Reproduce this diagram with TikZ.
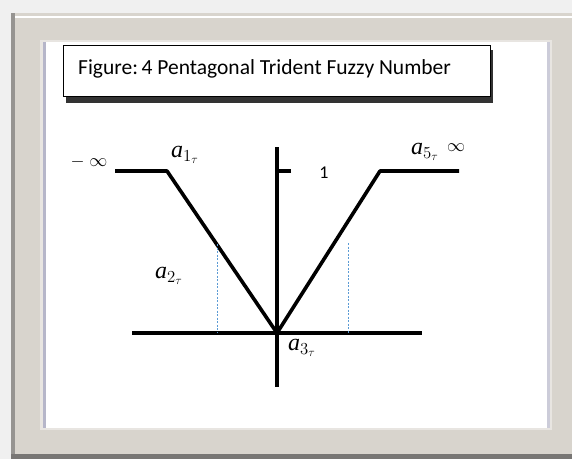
\RequirePackage{fix-cm}
\documentclass[tikz,border=0pt]{standalone}
\usepackage{fontspec}
\setmainfont{Liberation Serif}
\newfontfamily\titlefont{Carlito}
\definecolor{framegray}{RGB}{216,212,205}
\definecolor{edgegray}{RGB}{150,148,145}
\definecolor{guideblue}{RGB}{91,155,213}
\newcommand{\ala}[1]{\textit{a}$_{#1_\tau}$}
\begin{document}
\begin{tikzpicture}[x=1pt,y=-1pt,
	curve/.style={ line width=3.6pt, line join=round },
	axis/.style={ line width=3.6pt },
	guide/.style={ draw=guideblue, line width=0.8pt, dash pattern=on 2pt off 1.5pt },
	lbl/.style={ inner sep=0pt, font=\fontsize{24}{24}\selectfont },
	inf/.style={ inner sep=0pt, font=\fontsize{18}{18}\selectfont }
]
\useasboundingbox (0,0) rectangle (572,459);

% frame
\fill[black!6] (0,0) rectangle (572,459);
\fill[framegray] (11,13) rectangle (572,457);
\fill[edgegray] (11,13) rectangle (15,457);
\fill[edgegray!80!black] (11,454) rectangle (572,459);
\draw[white, line width=1.5pt] (15,17) -- (572,17);
\fill[framegray!60!white] (40,40) rectangle (552,430);
\fill[white] (43,42) rectangle (550,428);
\fill[blue!15!gray!50] (43,42) rectangle (46,428);
\fill[blue!15!gray!35] (547,42) rectangle (550,428);

% title box
\fill[black!80] (66,50) rectangle (493,103);
\node at (63,45) (title) [anchor=north west, draw, fill=white, line width=1.2pt,
	minimum width=427pt, minimum height=51pt] {};
\node at (78,74) (caption) [anchor=base west, inner sep=0pt,
	font=\titlefont\fontsize{21.5}{21.5}\selectfont] {Figure:\,4 Pentagonal Trident Fuzzy Number};

% axes
\coordinate (o) at (277,333);
\coordinate (xl) at (132,333);
\coordinate (xr) at (422,333);
\coordinate (yt) at (277,147);
\coordinate (yb) at (277,387);
\coordinate (tk) at (291,171);
\draw[axis] (xl) -- (xr);
\draw[axis] (yt) -- (yb);
\draw[line width=4.5pt] (tk) -- (tk -| yt);

% trident
\coordinate (l0) at (115,171);
\coordinate (l1) at (167,171);
\coordinate (r1) at (380,171);
\coordinate (r0) at (459,171);
\draw[curve] (l0) -- (l1) -- (o) -- (r1) -- (r0);

% guides
\coordinate (gl) at (217,244);
\coordinate (gr) at (348,243);
\foreach \p in {gl,gr} \draw[guide] (\p) -- (\p |- o);

% labels
\node at (89,162) (ninf) [inf] {$-\;\infty$};
\node at (456,148) (pinf) [inf] {$\infty$};
\node at (185,155) (a1) [lbl] {\ala{1}};
\node at (425,152) (a5) [lbl] {\ala{5}};
\node at (169,276) (a2) [lbl] {\ala{2}};
\node at (302,348) (a3) [lbl] {\ala{3}};
\node at (324,173) (one) [inner sep=0pt, font=\titlefont\fontsize{18}{18}\selectfont] {1};

\end{tikzpicture}
\end{document}
